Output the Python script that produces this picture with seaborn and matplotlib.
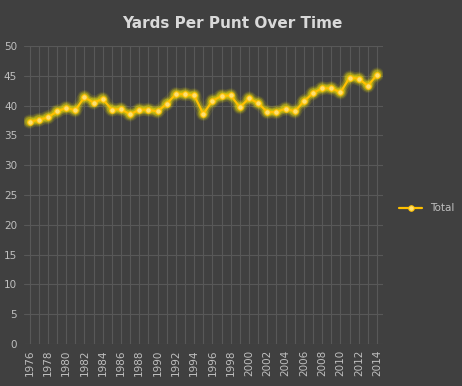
import pandas as pd
import matplotlib.pyplot as plt
import seaborn as sns

years = list(range(1976, 2015))
yards = [37.3, 37.6, 38.0, 39.0, 39.6, 39.2, 41.4, 40.5, 41.1, 39.3,
         39.4, 38.5, 39.3, 39.3, 39.0, 40.3, 41.9, 41.9, 41.7, 38.6,
         40.8, 41.6, 41.7, 39.7, 41.2, 40.4, 38.9, 38.9, 39.5, 39.0,
         40.7, 42.1, 42.9, 42.9, 42.2, 44.7, 44.5, 43.3, 45.2]

df = pd.DataFrame({'Year': years, 'Yards': yards})

sns.set_style("dark")
bg = '#404040'
txt = '#bfbfbf'
gold = '#ffc000'

fig = plt.figure(figsize=(4.62, 3.86), dpi=100, facecolor=bg)
ax = fig.add_axes([0.052, 0.109, 0.776, 0.772])
ax.set_facecolor(bg)

# glow
for lw, a in [(9, 0.08), (6, 0.15), (4, 0.25)]:
    ax.plot(df['Year'], df['Yards'], color='#fff200', lw=lw, alpha=a,
            solid_capstyle='round', zorder=2)
    ax.scatter(df['Year'], df['Yards'], s=lw * 12, color='#fff200',
               alpha=a, edgecolor='none', zorder=2)

sns.lineplot(data=df, x='Year', y='Yards', ax=ax, color=gold, lw=1.6,
             marker='o', markersize=4, markerfacecolor='#ffe070',
             markeredgecolor=gold, label='Total', zorder=3)

ax.set_xlim(1975.4, 2014.6)
ax.set_ylim(0, 50)
ax.set_xticks(years)
ax.set_xticklabels([str(y) if y % 2 == 0 else '' for y in years],
                   rotation=90, color=txt, fontsize=7.5)
ax.set_yticks(range(0, 51, 5))
ax.tick_params(axis='y', colors=txt, labelsize=7.5, length=0, pad=5)
ax.tick_params(axis='x', length=0, pad=4)
ax.grid(True, color='#585858', lw=0.8)
for s in ax.spines.values():
    s.set_visible(False)
ax.set_xlabel('')
ax.set_ylabel('')

ax.set_title('Yards Per Punt Over Time', color='#d9d9d9', fontsize=11,
             fontweight='bold', pad=13, x=0.58)

leg = ax.legend(loc='center left', bbox_to_anchor=(1.02, 0.455),
                frameon=False, fontsize=7.5, handlelength=2.2)
for t in leg.get_texts():
    t.set_color(txt)

fig.savefig('out.png', dpi=100, facecolor=bg)
